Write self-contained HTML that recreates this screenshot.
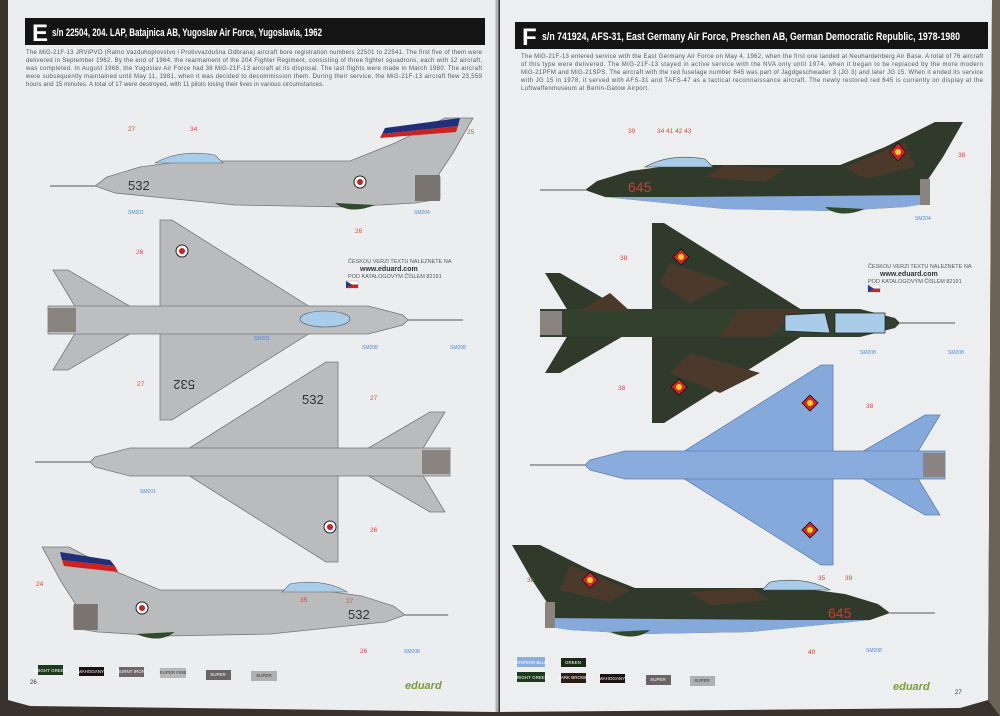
<!DOCTYPE html>
<html><head><meta charset="utf-8"><style>
html,body{margin:0;padding:0;width:1000px;height:716px;overflow:hidden;background:#3a332d;}
svg{display:block}
text{font-family:"Liberation Sans",sans-serif}
</style></head><body>
<svg width="1000" height="716" viewBox="0 0 1000 716" xmlns="http://www.w3.org/2000/svg">
<defs>
<g id="sideG">
<line x1="-45" y1="3" x2="0" y2="3" stroke="#555" stroke-width="1"/>
<path d="M0,3 L12,-6 L45,-16 L90,-22 L255,-22 L300,-40 L350,-65 L378,-65 L358,-30 L342,-6 L345,-6 L345,16 L320,20 L250,24 L140,22 L100,18 L20,10 Z" fill="#b9bbbd" stroke="#777" stroke-width="0.8"/>
<path d="M60,-20 Q85,-34 120,-28 L128,-20 Z" fill="#a9cde8" stroke="#666" stroke-width="0.6"/>
<rect x="320" y="-8" width="25" height="26" fill="#7a7470"/>
<path d="M240,20 Q255,32 280,22 Z" fill="#2f4a2c"/>
</g>
<g id="sideC">
<line x1="-45" y1="3" x2="0" y2="3" stroke="#555" stroke-width="1"/>
<path d="M0,3 L12,-6 L45,-16 L90,-22 L255,-22 L300,-40 L350,-65 L378,-65 L358,-30 L342,-6 L345,-6 L345,16 L320,20 L250,24 L140,22 L100,18 L20,10 Z" fill="#2f3a2a"/>
<path d="M140,-22 L200,-18 L180,-5 L120,-10 Z M260,-20 L320,-45 L330,-20 L280,-8 Z" fill="#4b3a2c"/>
<path d="M20,10 L100,10 L345,8 L345,16 L320,20 L250,24 L140,22 L100,18 Z" fill="#86a9dc"/>
<path d="M60,-20 Q85,-34 120,-28 L128,-20 Z" fill="#a9cde8" stroke="#444" stroke-width="0.6"/>
<rect x="335" y="-8" width="10" height="26" fill="#8a8480"/>
<path d="M240,20 Q255,32 280,22 Z" fill="#2f4a2c"/>
</g>
<g id="topG">
<line x1="360" y1="0" x2="415" y2="0" stroke="#555"/>
<path d="M112,-13 L112,-100 L124,-100 L262,-13 Z M112,13 L112,100 L124,100 L262,13 Z" fill="#b9bbbd" stroke="#777" stroke-width="0.8"/>
<path d="M28,-12 L5,-50 L20,-50 L85,-12 Z M28,12 L5,50 L20,50 L85,12 Z" fill="#b9bbbd" stroke="#777" stroke-width="0.8"/>
<path d="M0,-14 L320,-14 L355,-5 L360,0 L355,5 L320,14 L0,14 Z" fill="#bcbec0" stroke="#777" stroke-width="0.8"/>
<rect x="0" y="-12" width="28" height="24" fill="#8a8480"/>
</g>
<g id="topC">
<line x1="360" y1="0" x2="415" y2="0" stroke="#555"/>
<path d="M112,-13 L112,-100 L124,-100 L262,-13 Z M112,13 L112,100 L124,100 L262,13 Z" fill="#2f3a2a"/>
<path d="M28,-12 L5,-50 L20,-50 L85,-12 Z M28,12 L5,50 L20,50 L85,12 Z" fill="#2f3a2a"/>
<path d="M0,-14 L320,-14 L355,-5 L360,0 L355,5 L320,14 L0,14 Z" fill="#33402e"/>
<path d="M130,-60 L190,-40 L150,-20 L120,-40 Z M150,30 L220,50 L180,70 L130,50 Z M200,-14 L260,-14 L230,14 L180,14 Z M40,-12 L70,-30 L90,-12 Z" fill="#4b3a2c"/>
<path d="M245,-8 L285,-10 L290,10 L245,8 Z M295,-10 L345,-10 L345,10 L295,10 Z" fill="#a9cde8" stroke="#222" stroke-width="0.7"/>
<rect x="0" y="-12" width="22" height="24" fill="#8a8480"/>
</g>
<g id="botC">
<line x1="360" y1="0" x2="415" y2="0" stroke="#555"/>
<path d="M112,-13 L112,-100 L124,-100 L262,-13 Z M112,13 L112,100 L124,100 L262,13 Z" fill="#86a9dc" stroke="#5f7fae" stroke-width="0.8"/>
<path d="M28,-12 L5,-50 L20,-50 L85,-12 Z M28,12 L5,50 L20,50 L85,12 Z" fill="#86a9dc" stroke="#5f7fae" stroke-width="0.8"/>
<path d="M0,-14 L320,-14 L355,-5 L360,0 L355,5 L320,14 L0,14 Z" fill="#89acdd" stroke="#5f7fae" stroke-width="0.8"/>
<rect x="0" y="-12" width="22" height="24" fill="#8a8480"/>
</g>
</defs>

<!-- pages -->
<path d="M8,0 L496,0 L496,712 L30,706 L8,700 Z" fill="#ecedef"/>
<path d="M500,0 L992,0 L988,700 L960,708 L500,712 Z" fill="#edeef0"/>
<line x1="497" y1="0" x2="497" y2="712" stroke="#b0b0b3" stroke-width="3"/>
<path d="M992,0 L1000,0 L1000,716 L988,700 Z" fill="#6b6358"/>

<!-- headers -->
<rect x="25" y="18" width="460" height="27" fill="#141414"/>
<text x="32" y="41" fill="#fff" font-size="24" font-weight="bold">E</text>
<text x="52" y="36" fill="#fff" font-size="11" font-weight="bold" textLength="270" lengthAdjust="spacingAndGlyphs">s/n 22504, 204. LAP, Batajnica AB, Yugoslav Air Force, Yugoslavia, 1962</text>
<rect x="515" y="22" width="473" height="27" fill="#141414"/>
<text x="522" y="45" fill="#fff" font-size="24" font-weight="bold">F</text>
<text x="542" y="40" fill="#fff" font-size="11" font-weight="bold" textLength="418" lengthAdjust="spacingAndGlyphs">s/n 741924, AFS-31, East Germany Air Force, Preschen AB, German Democratic Republic, 1978-1980</text>

<g font-size="6" fill="#555" lengthAdjust="spacingAndGlyphs">
<text x="26" y="54" textLength="456">The MiG-21F-13 JRViPVO (Ratno Vazduhoplovstvo i Protivvazdušna Odbrana) aircraft bore registration numbers 22501 to 22541. The first five of them were</text>
<text x="26" y="62" textLength="456">delivered in September 1962. By the end of 1964, the rearmament of the 204 Fighter Regiment, consisting of three fighter squadrons, each with 12 aircraft,</text>
<text x="26" y="70" textLength="456">was completed. In August 1968, the Yugoslav Air Force had 38 MiG-21F-13 aircraft at its disposal. The last flights were made in March 1980. The aircraft</text>
<text x="26" y="78" textLength="456">were subsequently maintained until May 11, 1981, when it was decided to decommission them. During their service, the MiG-21F-13 aircraft flew 23,559</text>
<text x="26" y="86" textLength="298">hours and 15 minutes. A total of 17 were destroyed, with 11 pilots losing their lives in various circumstances.</text>
<text x="521" y="58" textLength="462">The MiG-21F-13 entered service with the East Germany Air Force on May 4, 1962, when the first one landed at Neuhardenberg Air Base. A total of 76 aircraft</text>
<text x="521" y="66" textLength="462">of this type were delivered. The MiG-21F-13 stayed in active service with the NVA only until 1974, when it began to be replaced by the more modern</text>
<text x="521" y="74" textLength="462">MiG-21PFM and MiG-21SPS. The aircraft with the red fuselage number 645 was part of Jagdgeschwader 3 (JG 3) and later JG 15. When it ended its service</text>
<text x="521" y="82" textLength="462">with JG 15 in 1978, it served with AFS-31 and TAFS-47 as a tactical reconnaissance aircraft. The newly restored red 645 is currently on display at the</text>
<text x="521" y="90" textLength="128">Luftwaffenmuseum at Berlin-Gatow Airport.</text>
</g>

<!-- left aircraft -->
<use href="#sideG" transform="translate(95,183)"/>
<text x="128" y="190" font-size="13" fill="#333">532</text>
<circle cx="360" cy="182" r="6" fill="#fff" stroke="#222"/><circle cx="360" cy="182" r="3" fill="#c22"/>
<path d="M385,128 L460,118 L458,126 L382,134 Z" fill="#1f2f7a"/><path d="M382,134 L458,126 L456,132 L380,138 Z" fill="#c22"/>
<use href="#topG" transform="translate(48,320)"/>
<ellipse cx="325" cy="319" rx="25" ry="8" fill="#a9cde8" stroke="#555" stroke-width="0.6"/>
<circle cx="182" cy="251" r="6" fill="#fff" stroke="#222"/><circle cx="182" cy="251" r="3" fill="#c22"/>
<text x="175" y="380" font-size="13" fill="#333" transform="rotate(180 185 380)">532</text>
<use href="#topG" transform="translate(450,462) scale(-1,1)"/>
<text x="302" y="404" font-size="13" fill="#333">532</text>
<circle cx="330" cy="527" r="6" fill="#fff" stroke="#222"/><circle cx="330" cy="527" r="3" fill="#c22"/>
<use href="#sideG" transform="translate(405,612) scale(-0.96,1)"/>
<text x="348" y="619" font-size="13" fill="#333">532</text>
<circle cx="142" cy="608" r="6" fill="#fff" stroke="#222"/><circle cx="142" cy="608" r="3" fill="#c22"/>
<path d="M60,552 L110,560 L115,566 L62,560 Z" fill="#1f2f7a"/><path d="M62,560 L115,566 L118,572 L64,566 Z" fill="#c22"/>

<!-- right aircraft -->
<use href="#sideC" transform="translate(585,187)"/>
<text x="628" y="192" font-size="14" fill="#d03a33">645</text>
<use href="#topC" transform="translate(540,323)"/>
<use href="#botC" transform="translate(945,465) scale(-1,1)"/>
<use href="#sideC" transform="translate(890,610) scale(-1,1)"/>
<text x="828" y="618" font-size="14" fill="#d03a33">645</text>
<g fill="#d8242a" stroke="#111" stroke-width="0.8">
<path d="M898,143 L906,152 L898,161 L890,152 Z"/>
<path d="M681,249 L689,257 L681,265 L673,257 Z"/>
<path d="M679,379 L687,387 L679,395 L671,387 Z"/>
<path d="M810,395 L818,403 L810,411 L802,403 Z"/>
<path d="M810,522 L818,530 L810,538 L802,530 Z"/>
<path d="M590,572 L598,580 L590,588 L582,580 Z"/>
</g>
<g fill="#f0d020"><circle cx="898" cy="152" r="3"/><circle cx="681" cy="257" r="3"/><circle cx="679" cy="387" r="3"/><circle cx="810" cy="403" r="3"/><circle cx="810" cy="530" r="3"/><circle cx="590" cy="580" r="3"/></g>

<!-- eduard czech note -->
<g font-size="5.5" fill="#555">
<text x="348" y="263">ČESKOU VERZI TEXTU NALEZNETE NA</text>
<text x="360" y="271" font-weight="bold" font-size="7" fill="#333">www.eduard.com</text>
<text x="348" y="278">POD KATALOGOVÝM ČÍSLEM 82191</text>
<text x="868" y="268">ČESKOU VERZI TEXTU NALEZNETE NA</text>
<text x="880" y="276" font-weight="bold" font-size="7" fill="#333">www.eduard.com</text>
<text x="868" y="283">POD KATALOGOVÝM ČÍSLEM 82191</text>
</g>
<rect x="346" y="281" width="12" height="7" fill="#fff" stroke="#999" stroke-width="0.4"/><rect x="346" y="284.5" width="12" height="3.5" fill="#c22"/><path d="M346,281 L352,284.5 L346,288 Z" fill="#1f3f8a"/>
<rect x="868" y="285" width="12" height="7" fill="#fff" stroke="#999" stroke-width="0.4"/><rect x="868" y="288.5" width="12" height="3.5" fill="#c22"/><path d="M868,285 L874,288.5 L868,292 Z" fill="#1f3f8a"/>

<!-- callout numbers -->
<g font-size="6.5" fill="#d04a40">
<text x="128" y="131">27</text><text x="190" y="131">34</text><text x="467" y="134">25</text><text x="355" y="233">26</text>
<text x="136" y="254">26</text><text x="137" y="386">27</text><text x="370" y="400">27</text><text x="370" y="532">26</text>
<text x="36" y="586">24</text><text x="300" y="602">35</text><text x="346" y="603">27</text><text x="360" y="653">26</text>
<text x="628" y="133">39</text><text x="657" y="133">34 41 42 43</text><text x="958" y="157">38</text>
<text x="620" y="260">38</text><text x="618" y="390">38</text><text x="866" y="408">38</text>
<text x="527" y="582">38</text><text x="818" y="580">35</text><text x="845" y="580">39</text><text x="808" y="654">40</text>
</g>
<g font-size="5" fill="#4a8ad0">
<text x="128" y="214">SM201</text><text x="414" y="214">SM204</text><text x="254" y="340">SM201</text><text x="362" y="349">SM208</text><text x="450" y="349">SM208</text>
<text x="140" y="493">SM201</text><text x="404" y="653">SM208</text>
<text x="915" y="220">SM204</text><text x="860" y="354">SM208</text><text x="948" y="354">SM208</text><text x="866" y="652">SM208</text>
</g>

<!-- paint swatches -->
<g font-size="4.5" fill="#fff" text-anchor="middle">
<rect x="38" y="665" width="25" height="10" fill="#1e3a1e"/><text x="50" y="672">BRIGHT GREEN</text>
<rect x="79" y="667" width="25" height="9" fill="#1a1210"/><text x="91" y="673">MAHOGANY</text>
<rect x="119" y="667" width="25" height="10" fill="#706868"/><text x="131" y="673">BURNT IRON</text>
<rect x="160" y="668" width="26" height="10" fill="#b8b8b8"/><text x="173" y="674" fill="#333">SUPER FINE</text>
<rect x="206" y="670" width="25" height="10" fill="#6a6464"/><text x="218" y="676">SUPER</text>
<rect x="251" y="671" width="26" height="10" fill="#b0b0b0"/><text x="264" y="677" fill="#333">SUPER</text>
<rect x="517" y="657" width="28" height="10" fill="#8aaee0"/><text x="531" y="664">INTERIOR BLUE</text>
<rect x="561" y="658" width="25" height="9" fill="#1a2a18"/><text x="573" y="664">GREEN</text>
<rect x="517" y="672" width="28" height="10" fill="#1e3a1e"/><text x="531" y="679">BRIGHT GREEN</text>
<rect x="561" y="673" width="25" height="10" fill="#2a1e16"/><text x="573" y="679">DARK BROWN</text>
<rect x="600" y="674" width="25" height="9" fill="#1a1210"/><text x="612" y="680">MAHOGANY</text>
<rect x="646" y="675" width="25" height="10" fill="#6a6464"/><text x="658" y="681">SUPER</text>
<rect x="690" y="676" width="25" height="10" fill="#b0b0b0"/><text x="702" y="682" fill="#333">SUPER</text>
</g>
<text x="30" y="684" font-size="6" fill="#333">26</text>
<text x="955" y="694" font-size="6" fill="#333">27</text>
<text x="405" y="689" font-size="11" font-weight="bold" fill="#7a9a3a" font-style="italic">eduard</text>
<text x="893" y="690" font-size="11" font-weight="bold" fill="#7a9a3a" font-style="italic">eduard</text>
</svg>
</body></html>
